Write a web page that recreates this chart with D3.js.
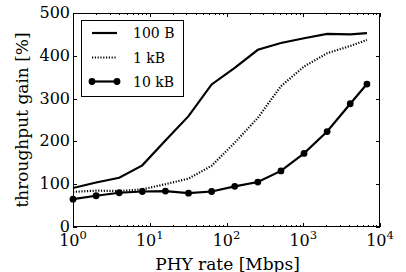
<!DOCTYPE html>
<html><head><meta charset="utf-8">
<script src="https://cdn.jsdelivr.net/npm/d3@7"></script>
<style>body{margin:0;background:#fff}svg{display:block}text{font-family:"DejaVu Serif",serif;fill:#000}</style>
</head><body><svg id="c" width="406" height="272"></svg>
<script>
const rates = [1,2,4,8,16,32,64,128,256,512,1024,2048,4096,6756];
const gain100B = [91,104,115,144,202,259,333,372,414,430,441,451,450,453];
const gain1kB = [82,85,84,88,100,113,143,197,255,329,375,406,423,437];
const gain10kB = [65,73,80,83,84,79,83,95,105,131,172,223,288,334];
const seriesNames = ["100 B","1 kB","10 kB"];
const yTicks = [0,100,200,300,400,500];
const xTicks = [1,10,100,1000,10000];

const svg = d3.select("#c");
const L=73,R=380,T=13,B=227;
const x = d3.scaleLog().domain([1,10000]).range([L,R]);
const y = d3.scaleLinear().domain([0,500]).range([B,T]);

// ticks
const g = svg.append("g").attr("stroke","#000").attr("stroke-width",1);
const minor=[];
for(let d=1;d<10000;d*=10) for(let k=2;k<10;k++) minor.push(d*k);
minor.forEach(v=>{
  const xx=Math.round(x(v))+0.5;
  g.append("line").attr("x1",xx).attr("x2",xx).attr("y1",B).attr("y2",B-2);
  g.append("line").attr("x1",xx).attr("x2",xx).attr("y1",T).attr("y2",T+2);
});
xTicks.forEach(v=>{
  const xx=Math.round(x(v))+0.5;
  g.append("line").attr("x1",xx).attr("x2",xx).attr("y1",B).attr("y2",B-4);
  g.append("line").attr("x1",xx).attr("x2",xx).attr("y1",T).attr("y2",T+4);
});
yTicks.forEach(v=>{
  const yy=Math.round(y(v))+0.5;
  g.append("line").attr("x1",L).attr("x2",L+4).attr("y1",yy).attr("y2",yy);
  g.append("line").attr("x1",R).attr("x2",R-4).attr("y1",yy).attr("y2",yy);
});

// tick labels
yTicks.forEach(v=>{
  svg.append("text").attr("x",L-3).attr("y",y(v)+5).attr("text-anchor","end")
    .attr("font-size",16).text(v);
});
xTicks.forEach(v=>{
  const e=Math.round(Math.log10(v));
  const t=svg.append("text").attr("x",x(v)).attr("y",246).attr("text-anchor","middle").attr("font-size",16);
  t.append("tspan").text("10");
  t.append("tspan").attr("dy",-7).attr("font-size",11.5).text(e);
});

// axis labels
svg.append("text").attr("x",(L+R)/2+1).attr("y",269.5).attr("text-anchor","middle").attr("font-size",17).text("PHY rate [Mbps]");
svg.append("text").attr("transform","translate(28,120) rotate(-90)").attr("text-anchor","middle").attr("font-size",17).text("throughput gain [%]");

// lines
const line = d3.line().x(d=>x(d[0])).y(d=>y(d[1]));
const plot = svg.append("g");
const data = [gain100B,gain1kB,gain10kB].map(s=>rates.map((r,i)=>[r,s[i]]));
plot.append("path").datum(data[0]).attr("d",line).attr("fill","none").attr("stroke","#000").attr("stroke-width",2.2);
plot.append("path").datum(data[1]).attr("d",line).attr("fill","none").attr("stroke","#000").attr("stroke-width",2.2).attr("stroke-dasharray","1.2,1.6");
plot.append("path").datum(data[2]).attr("d",line).attr("fill","none").attr("stroke","#000").attr("stroke-width",2.2);
plot.selectAll("circle").data(data[2]).enter().append("circle")
  .attr("cx",d=>x(d[0])).attr("cy",d=>y(d[1])).attr("r",3.4).attr("fill","#000");

// frame
svg.append("rect").attr("x",L+0.5).attr("y",T+0.5).attr("width",R-L-1).attr("height",B-T-1)
  .attr("fill","none").attr("stroke","#000").attr("stroke-width",1);

// legend
const lg = svg.append("g");
lg.append("rect").attr("x",81.5).attr("y",20.5).attr("width",102).attr("height",76).attr("fill","#fff").attr("stroke","#000").attr("stroke-width",1);
const ly=[33,57.5,81.5];
seriesNames.forEach((n,i)=>{
  const l=lg.append("line").attr("x1",92).attr("x2",117).attr("y1",ly[i]).attr("y2",ly[i]).attr("stroke","#000").attr("stroke-width",2.2);
  if(i===1) l.attr("stroke-dasharray","1.2,1.6");
  if(i===2){
    lg.append("circle").attr("cx",92).attr("cy",ly[i]).attr("r",3.4);
    lg.append("circle").attr("cx",117).attr("cy",ly[i]).attr("r",3.4);
  }
  lg.append("text").attr("x",133).attr("y",ly[i]+5).attr("font-size",14).text(n);
});
</script></body></html>
